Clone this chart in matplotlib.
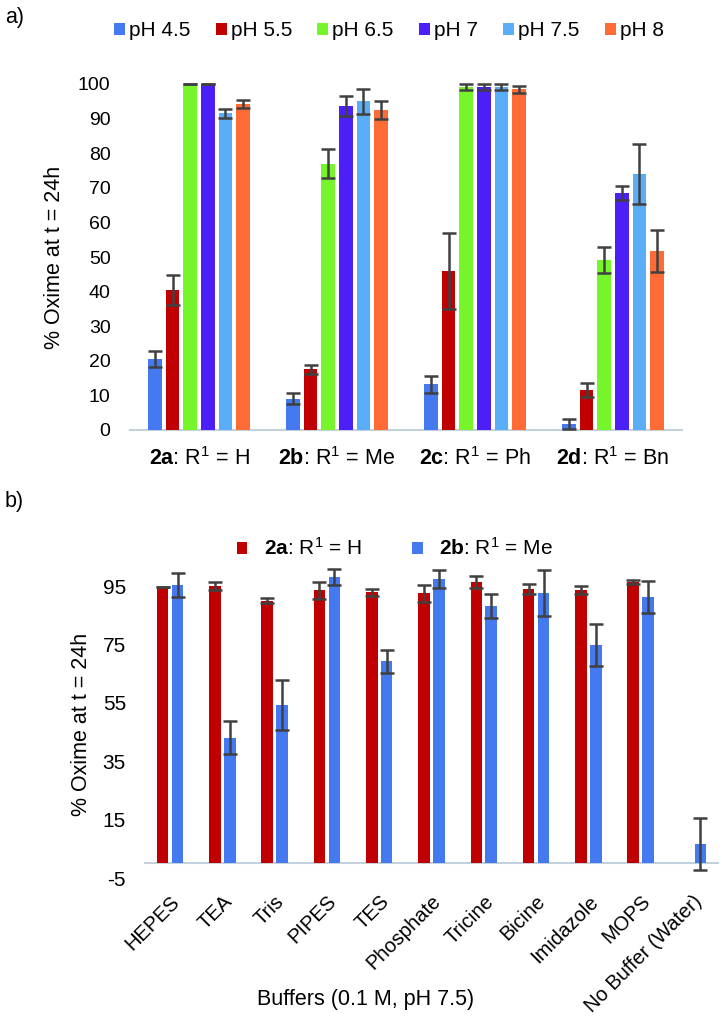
import matplotlib
matplotlib.use("Agg")
import matplotlib.pyplot as plt
import numpy as np

plt.rcParams["font.family"] = ["Liberation Sans", "DejaVu Sans"]
plt.rcParams["mathtext.fontset"] = "custom"
plt.rcParams["mathtext.rm"] = "Liberation Sans"
plt.rcParams["mathtext.bf"] = "Liberation Sans:bold"
plt.rcParams["mathtext.it"] = "Liberation Sans:italic"
plt.rcParams["axes.unicode_minus"] = False

# ---- panel a data ----
compounds = [r"$\mathbf{2a}$: R$^{1}$ = H", r"$\mathbf{2b}$: R$^{1}$ = Me",
             r"$\mathbf{2c}$: R$^{1}$ = Ph", r"$\mathbf{2d}$: R$^{1}$ = Bn"]
ph_labels = ["pH 4.5", "pH 5.5", "pH 6.5", "pH 7", "pH 7.5", "pH 8"]
ph_colors = ["#4479F0", "#C00000", "#76F52A", "#4B1FF5", "#5AADF7", "#FF6B35"]
# rows: pH, columns: compound
ph_vals = [
    [20.5, 9.0, 13.2, 1.7],
    [40.5, 17.5, 46.0, 11.6],
    [100, 77.0, 99.2, 49.2],
    [100, 93.7, 99.2, 68.6],
    [91.5, 95.0, 99.2, 74.0],
    [94.2, 92.5, 98.5, 51.7],
]
ph_errs = [
    [2.4, 1.6, 2.5, 1.5],
    [4.3, 1.4, 10.9, 2.0],
    [0.0, 4.2, 0.8, 3.7],
    [0.0, 2.9, 0.8, 2.0],
    [1.2, 3.6, 0.8, 8.7],
    [1.2, 2.6, 1.0, 6.0],
]

# ---- panel b data ----
buffers = ["HEPES", "TEA", "Tris", "PIPES", "TES", "Phosphate", "Tricine",
           "Bicine", "Imidazole", "MOPS", "No Buffer (Water)"]
series_b = [r"$\mathbf{2a}$: R$^{1}$ = H", r"$\mathbf{2b}$: R$^{1}$ = Me"]
colors_b = ["#C00000", "#4479F0"]
vals_2a = [94.8, 95.0, 90.0, 93.6, 92.8, 92.5, 96.3, 94.0, 93.6, 96.5, np.nan]
errs_2a = [0.0, 1.2, 0.8, 2.9, 1.2, 3.0, 2.0, 1.8, 1.3, 0.7, 0.0]
vals_2b = [95.3, 43.0, 54.2, 98.0, 69.2, 97.4, 88.1, 92.5, 74.8, 91.1, 6.5]
errs_2b = [4.1, 5.7, 8.6, 2.7, 4.0, 3.0, 4.0, 7.9, 7.2, 5.5, 8.9]

W, H = 722, 1024
fig = plt.figure(figsize=(W / 100, H / 100), dpi=100)

axis_col = "#C3D1DC"
err_kw = dict(fmt="none", ecolor="#404040", elinewidth=1.8, capsize=5,
              capthick=1.8, clip_on=False, zorder=4)

# ---------------- panel a ----------------
ax1 = fig.add_axes([130 / W, 1 - 430 / H, 552 / W, 346 / H])
x = np.arange(len(compounds))
pitch, bw = 0.128, 0.10
for i in range(len(ph_labels)):
    pos = x + (i - 2.5) * pitch
    ax1.bar(pos, ph_vals[i], width=bw, color=ph_colors[i], label=ph_labels[i], zorder=3)
    ax1.errorbar(pos, ph_vals[i], yerr=ph_errs[i], **err_kw)
ax1.set_xlim(-0.5, 3.5)
ax1.set_ylim(0, 100)
ax1.set_yticks(np.arange(0, 101, 10))
ax1.set_xticks(x)
ax1.set_xticklabels(compounds)
ax1.tick_params(axis="y", length=0, labelsize=14, pad=14)
ax1.tick_params(axis="x", length=0, labelsize=15.5, pad=12)
for s in ["top", "right", "left"]:
    ax1.spines[s].set_visible(False)
ax1.spines["bottom"].set_color(axis_col)
ax1.spines["bottom"].set_linewidth(1.5)
ax1.set_ylabel("% Oxime at t = 24h", fontsize=15.5, labelpad=9)
fig.legend(*ax1.get_legend_handles_labels(), loc="center", bbox_to_anchor=(389 / W, 1 - 31 / H),
           ncol=6, frameon=False, fontsize=15, handlelength=0.53, handleheight=0.53,
           handletextpad=0.2, columnspacing=1.2)
fig.text(5 / W, 1 - 17 / H, "a)", fontsize=15.5, va="center")

# ---------------- panel b ----------------
ax2 = fig.add_axes([144 / W, 1 - 878 / H, 575 / W, 306.6 / H])
xb = np.arange(len(buffers))
off, bwb = 0.143, 0.22
for vals, errs, col, lab, sgn in [(vals_2a, errs_2a, colors_b[0], series_b[0], -1),
                                  (vals_2b, errs_2b, colors_b[1], series_b[1], 1)]:
    pos = xb + sgn * off
    ax2.bar(pos, vals, width=bwb, color=col, label=lab, zorder=3)
    ax2.errorbar(pos, vals, yerr=errs, **err_kw)
ax2.axhline(0, color=axis_col, lw=1.5, zorder=2)
ax2.set_xlim(-0.5, 10.5)
ax2.set_ylim(-5, 100)
ax2.set_yticks(np.arange(-5, 96, 20))
ax2.set_xticks(xb)
ax2.set_xticklabels(buffers, rotation=45, ha="right", rotation_mode="anchor")
ax2.tick_params(axis="y", length=0, labelsize=15, pad=13)
ax2.tick_params(axis="x", length=0, labelsize=14.5, pad=10)
for s in ax2.spines.values():
    s.set_visible(False)
ax2.set_ylabel("% Oxime at t = 24h", fontsize=15.5, labelpad=8)
fig.text(366 / W, 1 - 1000 / H, "Buffers (0.1 M, pH 7.5)", fontsize=15.5, ha="center", va="center")
fig.legend(*ax2.get_legend_handles_labels(), loc="center", bbox_to_anchor=(395 / W, 1 - 548 / H),
           ncol=2, frameon=False, fontsize=15, handlelength=0.51, handleheight=0.51,
           handletextpad=0.8, columnspacing=2.4)
fig.text(5 / W, 1 - 502 / H, "b)", fontsize=15.5, va="center")

fig.savefig("out.png", dpi=100)
